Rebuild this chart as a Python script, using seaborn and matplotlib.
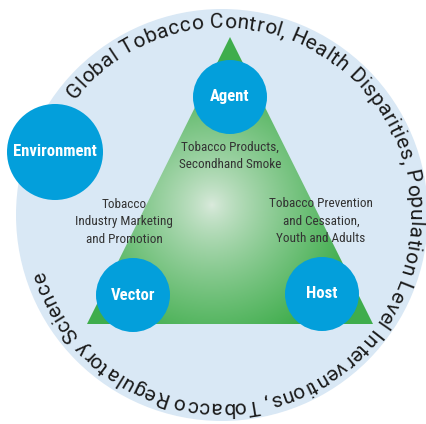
import numpy as np
import seaborn as sns
import matplotlib.pyplot as plt
from matplotlib.patches import Circle, Polygon
from matplotlib.font_manager import FontProperties
from matplotlib.textpath import text_to_path

# content of the diagram
ring_text = ("Global Tobacco Control, Health Disparities, Population Level "
             "Interventions, Tobacco Regulatory Science")
node_labels = ["Agent", "Environment", "Vector", "Host"]
node_xy = [(230, 97), (55, 152), (133, 295), (322, 294)]
node_r = [37, 48, 37, 37]
side_labels = ["Tobacco Products,\nSecondhand Smoke",
               "Tobacco\nIndustry Marketing\nand Promotion",
               "Tobacco Prevention\nand Cessation,\nYouth and Adults"]
side_xy = [(230, 156), (124, 222), (321, 221)]

W, H = 426, 424
sns.set_theme(style="white")
plt.rcParams["font.family"] = ["Roboto Condensed", "DejaVu Sans"]

fig = plt.figure(figsize=(W / 100, H / 100), dpi=100)
ax = fig.add_axes([0, 0, 1, 1])
ax.set_xlim(0, W)
ax.set_ylim(H, 0)
ax.set_aspect("equal")
ax.axis("off")

cx, cy, R = 222, 215, 206
ax.add_patch(Circle((cx, cy), R, facecolor="#d9e8f5", edgecolor="none", zorder=1))

# green triangle with a soft radial highlight
tri = Polygon([(230, 37), (87, 324), (373, 324)], closed=True,
              facecolor="none", edgecolor="none", zorder=2)
ax.add_patch(tri)
gx, gy = np.meshgrid(np.arange(W) + 0.5, np.arange(H) + 0.5)
d = np.sqrt((gx - 212) ** 2 + (gy - 205) ** 2) / 145
t = np.clip(d, 0, 1) ** 0.8
light = np.array([0.86, 0.92, 0.87])
dark = np.array([0.25, 0.68, 0.30])
img = light * (1 - t[..., None]) + dark * t[..., None]
im = ax.imshow(img, extent=(0, W, H, 0), zorder=2, interpolation="bilinear")
im.set_clip_path(tri)

for lab, (x, y), r in zip(node_labels, node_xy, node_r):
    ax.add_patch(Circle((x, y), r, facecolor="#039fdb", edgecolor="none", zorder=3))
    ax.text(x, y, lab, color="white", fontsize=12, fontweight="bold",
            ha="center", va="center", zorder=4)

for lab, (x, y) in zip(side_labels, side_xy):
    ax.text(x, y, lab, color="#333333", fontsize=9.5, ha="center", va="center",
            linespacing=1.45, zorder=4)

# text running clockwise round the ring
fp = FontProperties(family=["Roboto", "DejaVu Sans"], size=15)
def adv(ch):
    w = lambda s: text_to_path.get_text_width_height_descent(s, fp, ismath=False)[0]
    return (w("x" + ch + "x") - w("xx")) * 100 / 72

widths = np.array([adv(ch) for ch in ring_text])
starts = np.concatenate([[0], np.cumsum(widths)[:-1]])
mids = starts + widths / 2
rb = 187
a0, a1 = np.radians(142), np.radians(-163)
scale = (a0 - a1) * rb / widths.sum()
for ch, m in zip(ring_text, mids):
    th = a0 - m * scale / rb
    x = cx + rb * np.cos(th)
    y = cy - rb * np.sin(th)
    ax.text(x, y, ch, fontproperties=fp, color="#1a1a1a", rotation=np.degrees(th) - 90,
            rotation_mode="anchor", ha="center", va="baseline", zorder=4)

fig.savefig("out.png", dpi=100)
